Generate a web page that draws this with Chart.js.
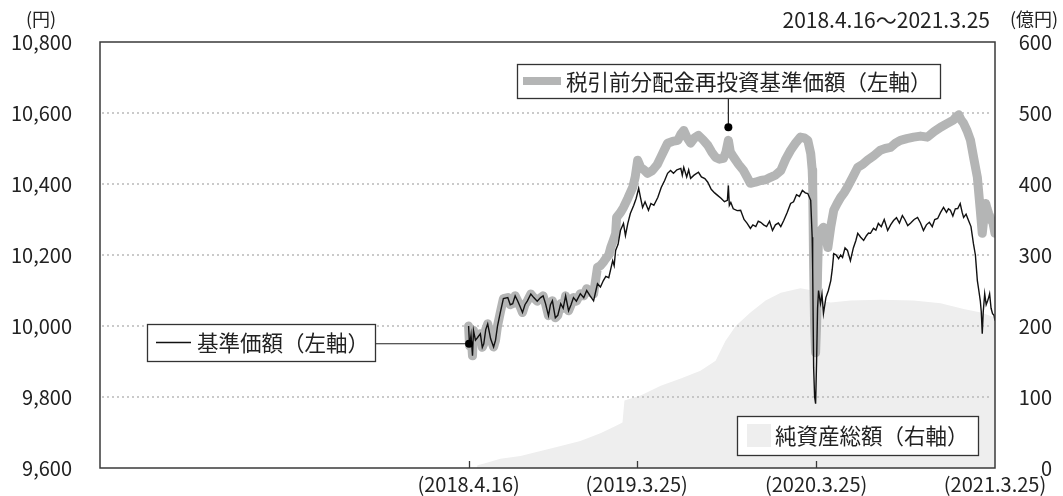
<!DOCTYPE html>
<html lang="ja">
<head>
<meta charset="utf-8">
<script src="https://cdn.jsdelivr.net/npm/chart.js@4.4.1/dist/chart.umd.min.js"></script>
<style>
  body { margin: 0; background: #fff; }
  #wrap { width: 1063px; height: 496px; }
</style>
</head>
<body>
<div id="wrap"><canvas id="navChart" width="1063" height="496"></canvas></div>
<script>
// day 0 = 2018.4.16 (設定日)
const periodLabel = "2018.4.16～2021.3.25";
const axisFirstDay = -752;   // 2016.3.25
const axisLastDay = 1074;    // 2021.3.25
const xTickDays = [0, 343, 709, 1074];
const xTickLabels = ["(2018.4.16)", "(2019.3.25)", "(2020.3.25)", "(2021.3.25)"];

// 基準価額（円）
const navDays = [0,2,5,8,10,14,18,24,28,31,35,39,45,51,55,59,65,71,80,85,90,95,100,105,110,115,120,127,133,140,147,152,157,163,167,171,177,182,188,193,198,204,209,214,220,228,235,241,248,255,259,263,269,275,280,286,290,294,297,300,305,310,316,320,325,330,337,342,347,351,355,360,367,372,378,386,393,400,406,412,418,425,433,436,439,445,449,453,460,469,475,482,488,495,502,508,515,522,528,530,532,535,540,548,555,562,568,575,580,586,591,596,602,608,614,620,626,632,637,643,650,657,663,669,675,681,687,692,698,701,702,704,706,708,710,712,714,716,718,721,724,729,734,739,742,745,750,755,759,763,768,773,779,785,790,794,800,806,812,816,820,826,831,836,842,848,855,861,867,873,879,885,890,896,902,909,916,922,928,934,940,946,951,957,963,969,975,979,983,988,993,998,1003,1007,1010,1015,1020,1025,1030,1034,1038,1041,1044,1046,1048,1050,1053,1056,1059,1061,1063,1066,1069,1072,1074];
const navValues = [10000,9944,9975,9916,9987,9960,9967,9978,9940,9950,9990,10006,9964,9941,9960,10000,10040,10077,10080,10060,10063,10085,10071,10055,10038,10060,10071,10090,10080,10070,10080,10085,10063,10029,10060,10071,10023,10030,10063,10050,10085,10043,10060,10080,10070,10091,10080,10100,10085,10071,10095,10119,10110,10128,10140,10136,10160,10184,10170,10213,10230,10270,10289,10255,10290,10317,10340,10360,10388,10360,10334,10350,10326,10345,10340,10362,10390,10410,10430,10438,10430,10440,10444,10425,10447,10420,10440,10416,10425,10433,10420,10415,10405,10385,10375,10368,10360,10350,10354,10396,10340,10348,10330,10325,10326,10300,10290,10275,10285,10280,10295,10292,10285,10280,10295,10269,10285,10290,10280,10297,10320,10345,10350,10370,10365,10382,10375,10373,10354,10250,10165,9882,9800,9781,9900,10050,10100,10080,10063,10090,10035,10080,10100,10128,10160,10204,10200,10190,10200,10193,10220,10213,10184,10220,10240,10261,10250,10241,10255,10262,10261,10275,10270,10289,10280,10300,10269,10285,10297,10305,10290,10311,10300,10283,10290,10300,10306,10290,10269,10285,10292,10280,10300,10303,10320,10334,10320,10330,10326,10310,10330,10331,10345,10320,10306,10315,10297,10280,10232,10200,10128,10100,10071,10040,9978,10040,10091,10060,10071,10080,10091,10050,10035,10030,10015];

// 税引前分配金再投資基準価額（円）
const reinvDays = [0,2,5,8,10,14,18,24,28,31,35,39,45,51,55,59,65,71,80,85,90,95,100,105,110,115,120,127,133,140,147,152,157,163,167,171,177,182,188,193,198,204,209,214,220,228,235,241,248,255,263,269,275,280,286,290,295,300,302,310,316,325,335,340,345,351,358,365,375,385,392,399,406,416,427,433,439,446,453,461,469,478,488,496,504,512,520,525,530,534,541,551,561,568,575,585,596,606,616,626,637,647,657,667,677,685,692,698,701,702,704,706,708,710,712,714,719,724,729,733,739,745,752,759,766,773,784,794,804,814,827,840,850,861,871,881,894,908,922,936,950,963,976,989,995,1000,1005,1010,1017,1024,1031,1038,1044,1048,1051,1055,1058,1061,1066,1070,1074];
const reinvValues = [10000,9944,9975,9916,9987,9960,9967,9978,9940,9950,9990,10006,9964,9941,9960,10000,10040,10077,10080,10060,10063,10085,10071,10055,10038,10060,10071,10090,10080,10070,10080,10085,10063,10029,10060,10071,10023,10030,10063,10050,10085,10043,10060,10080,10070,10091,10085,10105,10095,10090,10165,10170,10180,10190,10200,10221,10240,10260,10306,10320,10334,10360,10391,10420,10467,10447,10440,10430,10438,10455,10475,10495,10515,10520,10523,10540,10551,10530,10515,10530,10537,10525,10509,10490,10475,10470,10472,10490,10523,10490,10475,10455,10438,10420,10402,10405,10410,10412,10419,10425,10438,10470,10495,10515,10532,10530,10523,10486,10440,10402,10165,10000,9925,10000,10150,10261,10270,10278,10250,10221,10280,10326,10345,10362,10375,10391,10420,10447,10455,10467,10480,10495,10500,10503,10515,10523,10528,10532,10535,10532,10548,10560,10570,10580,10590,10595,10580,10571,10550,10523,10470,10419,10326,10261,10300,10345,10330,10317,10300,10290,10261];

// 純資産総額（億円）
const assetDays = [17,18,30,65,106,147,188,228,269,300,314,318,351,392,433,473,504,524,545,575,606,637,677,702,710,739,779,840,908,963,1010,1045,1074];
const assetValues = [0,4,6,13,17,24,31,38,49,59,64,95,102,116,126,137,151,179,200,219,236,247,253,250,236,233,236,237,236,232,224,219,212];

const JP = '"Noto Sans CJK JP", "Noto Sans", sans-serif';

function pts(days, vals) {
  return days.map((d, i) => ({ x: d, y: vals[i] }));
}

function fixWidth(w) {
  return s => { s.width = w; s.paddingTop = 0; s.paddingBottom = 0; };
}

const decorations = {
  id: 'decorations',
  afterDatasetDraw(chart, args) {
    // dotted grid goes over the asset area but under the lines
    if (args.index !== 2) return;
    const { ctx, chartArea: a } = chart;
    const y = chart.scales.y;
    ctx.save();
    ctx.strokeStyle = '#b9b9b9';
    ctx.lineWidth = 2;
    ctx.lineCap = 'round';
    ctx.setLineDash([0, 5]);
    for (let v = 9800; v <= 10600; v += 200) {
      const py = Math.round(y.getPixelForValue(v));
      ctx.beginPath();
      ctx.moveTo(a.left + 3, py);
      ctx.lineTo(a.right - 2, py);
      ctx.stroke();
    }
    ctx.restore();
  },
  afterDraw(chart) {
    const { ctx, chartArea: a } = chart;
    const x = chart.scales.x, y = chart.scales.y;
    ctx.save();

    // frame
    ctx.strokeStyle = '#3a3a3a';
    ctx.lineWidth = 1.5;
    ctx.strokeRect(a.left, a.top, a.right - a.left, a.bottom - a.top);

    // tick marks inside the bottom edge
    ctx.lineWidth = 1.3;
    xTickDays.slice(0, -1).forEach(d => {
      const px = Math.round(x.getPixelForValue(d)) + 0.5;
      ctx.beginPath();
      ctx.moveTo(px, a.bottom);
      ctx.lineTo(px, a.bottom - 7);
      ctx.stroke();
    });

    // unit / period text
    ctx.fillStyle = '#222';
    ctx.textBaseline = 'middle';
    ctx.font = '18px ' + JP;
    ctx.textAlign = 'center';
    ctx.fillText('(円)', 41, 19);
    ctx.fillText('(億円)', 1034, 19);
    ctx.font = '21px ' + JP;
    ctx.textAlign = 'right';
    ctx.fillText(periodLabel, 990, 20);

    // callout boxes
    ctx.textAlign = 'left';
    ctx.font = '21.5px ' + JP;

    // 税引前分配金再投資基準価額
    const d1x = x.getPixelForValue(530), d1y = y.getPixelForValue(10560);
    ctx.strokeStyle = '#222';
    ctx.lineWidth = 1.2;
    ctx.beginPath();
    ctx.moveTo(d1x, 98);
    ctx.lineTo(d1x, d1y);
    ctx.stroke();
    ctx.fillStyle = '#000';
    ctx.beginPath();
    ctx.arc(d1x, d1y, 4, 0, Math.PI * 2);
    ctx.fill();
    drawBox(ctx, 517, 64, 423, 34);
    ctx.strokeStyle = '#b4b5b5';
    ctx.lineWidth = 8;
    ctx.beginPath();
    ctx.moveTo(523, 81);
    ctx.lineTo(561, 81);
    ctx.stroke();
    ctx.fillStyle = '#222';
    ctx.fillText('税引前分配金再投資基準価額（左軸）', 566, 82);

    // 基準価額
    const d2x = x.getPixelForValue(1), d2y = y.getPixelForValue(9950);
    ctx.strokeStyle = '#222';
    ctx.lineWidth = 1.2;
    ctx.beginPath();
    ctx.moveTo(375, d2y);
    ctx.lineTo(d2x, d2y);
    ctx.stroke();
    ctx.fillStyle = '#000';
    ctx.beginPath();
    ctx.arc(d2x, d2y, 4, 0, Math.PI * 2);
    ctx.fill();
    drawBox(ctx, 147, 324, 228, 37);
    ctx.strokeStyle = '#111';
    ctx.lineWidth = 1.5;
    ctx.beginPath();
    ctx.moveTo(156, 342.5);
    ctx.lineTo(191, 342.5);
    ctx.stroke();
    ctx.fillStyle = '#222';
    ctx.fillText('基準価額（左軸）', 197, 343);

    // 純資産総額
    drawBox(ctx, 737, 416, 241, 39);
    ctx.fillStyle = '#eeeeee';
    ctx.fillRect(747, 424, 24, 23);
    ctx.fillStyle = '#222';
    ctx.fillText('純資産総額（右軸）', 775, 436);

    ctx.restore();
  }
};

function drawBox(ctx, bx, by, bw, bh) {
  ctx.fillStyle = '#fff';
  ctx.fillRect(bx, by, bw, bh);
  ctx.strokeStyle = '#333';
  ctx.lineWidth = 1.3;
  ctx.strokeRect(bx + 0.5, by + 0.5, bw, bh);
}

const ctx = document.getElementById('navChart');
const navChart = new Chart(ctx, {
  type: 'line',
  data: {
    datasets: [
      {
        label: '基準価額（左軸）',
        data: pts(navDays, navValues),
        yAxisID: 'y',
        borderColor: '#111',
        borderWidth: 1.4,
        pointRadius: 0,
        tension: 0,
        order: 1,
      },
      {
        label: '税引前分配金再投資基準価額（左軸）',
        data: pts(reinvDays, reinvValues),
        yAxisID: 'y',
        borderColor: '#b4b5b5',
        borderWidth: 9,
        borderJoinStyle: 'round',
        borderCapStyle: 'round',
        pointRadius: 0,
        tension: 0,
        order: 2,
      },
      {
        label: '純資産総額（右軸）',
        data: pts(assetDays, assetValues),
        yAxisID: 'yAsset',
        borderWidth: 0,
        backgroundColor: '#eeeeee',
        fill: 'origin',
        pointRadius: 0,
        tension: 0,
        order: 3,
      },
    ],
  },
  options: {
    responsive: false,
    animation: false,
    devicePixelRatio: 1,
    layout: { padding: { top: 42, left: 0, right: 11, bottom: 0 } },
    plugins: { legend: { display: false }, tooltip: { enabled: false } },
    scales: {
      x: {
        type: 'linear',
        min: axisFirstDay,
        max: axisLastDay,
        afterBuildTicks: s => { s.ticks = xTickDays.map(v => ({ value: v })); },
        afterFit: s => { s.height = 28; s.paddingLeft = 0; s.paddingRight = 0; },
        ticks: {
          autoSkip: false,
          maxRotation: 0,
          padding: 4,
          color: '#222',
          font: { family: JP, size: 20 },
          callback: v => xTickLabels[xTickDays.indexOf(v)],
        },
        grid: { display: false, drawTicks: false },
        border: { display: false },
      },
      y: {
        position: 'left',
        min: 9600,
        max: 10800,
        afterFit: fixWidth(100),
        ticks: {
          stepSize: 200,
          padding: 28,
          color: '#222',
          font: { family: JP, size: 20 },
          callback: v => v.toLocaleString('en-US'),
        },
        grid: { display: false, drawTicks: false },
        border: { display: false },
      },
      yAsset: {
        position: 'right',
        min: 0,
        max: 600,
        afterFit: fixWidth(57),
        ticks: {
          stepSize: 100,
          padding: 10,
          crossAlign: 'far',
          color: '#222',
          font: { family: JP, size: 20 },
        },
        grid: { display: false, drawTicks: false },
        border: { display: false },
      },
    },
  },
  plugins: [decorations],
});
</script>
</body>
</html>
